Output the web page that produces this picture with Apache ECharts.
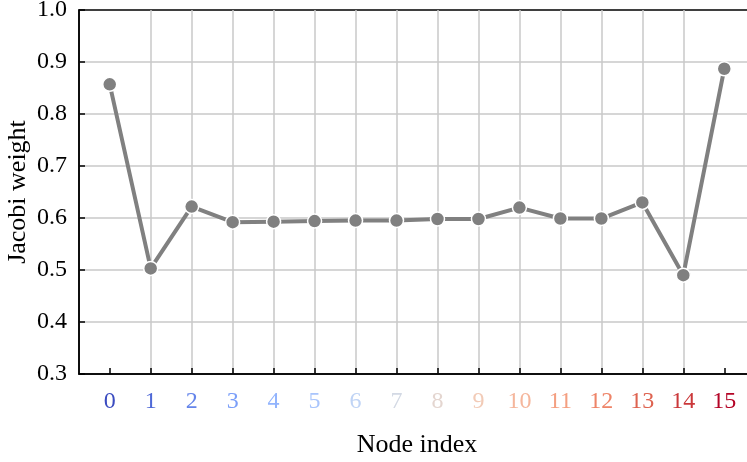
<!DOCTYPE html>
<html>
<head>
<meta charset="utf-8">
<script src="https://cdn.jsdelivr.net/npm/echarts@6/dist/echarts.min.js"></script>
<style>
  html, body { margin: 0; padding: 0; background: #ffffff; }
  #chart { width: 747px; height: 462px; }
</style>
</head>
<body>
<div id="chart"></div>
<script>
// Node indices along the x axis
const nodes = [0, 1, 2, 3, 4, 5, 6, 7, 8, 9, 10, 11, 12, 13, 14, 15];
// Jacobi weight at each node
const weights = [0.857, 0.503, 0.622, 0.592, 0.593, 0.594, 0.595, 0.595,
                 0.598, 0.598, 0.620, 0.599, 0.599, 0.630, 0.490, 0.887];
// Tick label colours (coolwarm ramp, one per node)
const tickColors = ['#3b4cc0', '#4f69d7', '#6484ea', '#7b9ff9', '#92b4fd', '#a9c5fc',
                    '#c0d4f5', '#d3d9e4', '#e4d6d0', '#f2cbb7', '#f5b69c', '#f49f81',
                    '#ee8468', '#de6350', '#cb383a', '#b40426'];
// Y axis tick values
const yTicks = [0.3, 0.4, 0.5, 0.6, 0.7, 0.8, 0.9, 1.0];

const FONT = 'Liberation Serif';
const chart = echarts.init(document.getElementById('chart'), null, { renderer: 'canvas' });

const gridLine = { show: true, showMinLine: false, showMaxLine: false,
                   lineStyle: { color: '#c8c8c8', width: 1.5 } };
const spine = { show: true, onZero: false, lineStyle: { color: '#000000', width: 1.5 } };

chart.setOption({
  animation: false,
  backgroundColor: '#ffffff',
  grid: {
    left: 79, top: 10, width: 676, height: 364,
    outerBoundsMode: 'none',
    containLabel: false,
    show: true, borderColor: '#000000', borderWidth: 1.5
  },
  xAxis: {
    type: 'value',
    min: -0.75, max: 15.75,
    name: 'Node index',
    nameLocation: 'middle',
    nameGap: 58,
    nameMoveOverlap: false,
    nameTextStyle: { fontFamily: FONT, fontSize: 26, color: '#000000' },
    axisLine: spine,
    axisTick: { show: true, inside: true, length: 6, customValues: nodes,
                lineStyle: { color: '#000000', width: 1.5 } },
    axisLabel: {
      customValues: nodes,
      margin: 16,
      fontFamily: FONT, fontSize: 24,
      color: (v) => tickColors[Math.round(Number(v))] || '#000000',
      formatter: (v) => String(Math.round(v))
    },
    splitLine: gridLine
  },
  yAxis: {
    type: 'value',
    min: 0.3, max: 1.0, interval: 0.1,
    name: 'Jacobi weight',
    nameLocation: 'middle',
    nameGap: 48,
    nameMoveOverlap: false,
    nameTextStyle: { fontFamily: FONT, fontSize: 26, color: '#000000' },
    axisLine: spine,
    axisTick: { show: true, inside: true, length: 6, customValues: yTicks,
                lineStyle: { color: '#000000', width: 1.5 } },
    axisLabel: {
      customValues: yTicks,
      margin: 12,
      fontFamily: FONT, fontSize: 24, color: '#000000',
      formatter: (v) => Number(v).toFixed(1)
    },
    splitLine: gridLine
  },
  series: [{
    type: 'line',
    data: nodes.map((n, i) => [n, weights[i]]),
    symbol: 'circle',
    symbolSize: 14,
    lineStyle: { color: '#808080', width: 4 },
    itemStyle: { color: '#808080', borderColor: '#ffffff', borderWidth: 1.5 },
    z: 5
  }]
});
</script>
</body>
</html>
